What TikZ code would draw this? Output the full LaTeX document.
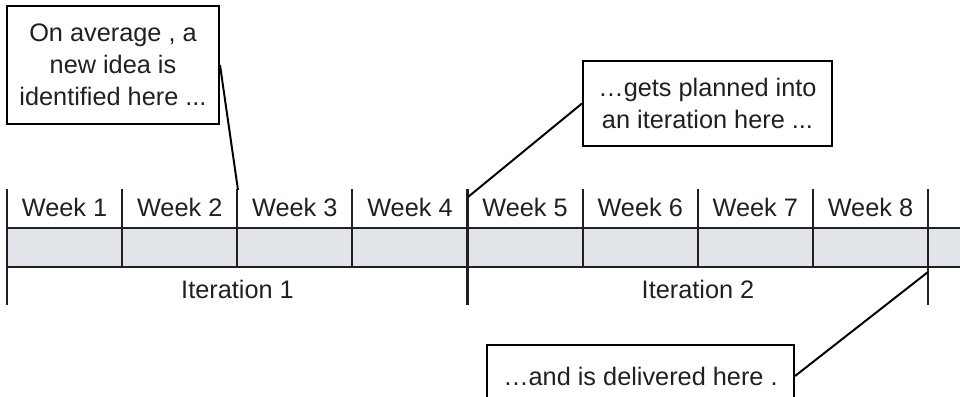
\documentclass[tikz,border=0pt]{standalone}
\usepackage{fontspec}
\setmainfont{Liberation Sans}
\usepackage{tikz}
\definecolor{bandgray}{RGB}{225,228,233}
\definecolor{inkgray}{RGB}{35,31,32}

\begin{document}
\begin{tikzpicture}[x=0.025cm, y=-0.025cm,
		note_style/.style={draw=black,line width=1.4pt,fill=white,align=center,inner sep=0pt,text=inkgray,font=\fontsize{18}{22.8}\selectfont},
		week_style/.style={anchor=base,text=inkgray,font=\fontsize{18}{20}\selectfont},
		tick_style/.style={draw=inkgray,line width=1.5pt},
		edge_style/.style={draw=black,line width=1.4pt}]

		\useasboundingbox (0,0) rectangle (960,396);
		\clip (0,0) rectangle (960,396);

		% band
		\fill[bandgray] (7,228) rectangle (960,267);
		\draw[inkgray,line width=0.9pt] (7,228) -- (960,228) (7,267) -- (960,267);

		% dividers
		\foreach \i in {1,2,3,5,6,7}
			\draw[tick_style] ({7+115.125*\i},189) -- ({7+115.125*\i},267);
		\foreach \i in {0,4,8}
			\draw[tick_style] ({7+115.125*\i},189) -- ({7+115.125*\i},305);

		\foreach \i in {1,...,8}
			\node[week_style] (w\i) at ({7+115.125*(\i-0.5)},216) {Week \i};

		\node[week_style] (it1) at (237.5,298) {Iteration 1};
		\node[week_style] (it2) at (698,298) {Iteration 2};

		\node[note_style,minimum width=5.3cm,minimum height=2.95cm] (idea) at (113,65)
			{On average , a\\new idea is\\identified here ...};
		\node[note_style,minimum width=6.225cm,minimum height=2.125cm] (plan) at (707.5,103.5)
			{…gets planned into\\an iteration here ...};
		\node[note_style,minimum width=7.675cm,minimum height=1.55cm] (deliver) at (640.5,376)
			{…and is delivered here .};

		\coordinate (c_idea) at (238,190);
		\coordinate (c_plan) at (468,197);
		\coordinate (c_deliver) at (928,272);

		\draw[edge_style] (idea.east) -- (c_idea);
		\draw[edge_style] (plan.west) -- (c_plan);
		\draw[edge_style] (deliver.east) -- (c_deliver);

\end{tikzpicture}
\end{document}
